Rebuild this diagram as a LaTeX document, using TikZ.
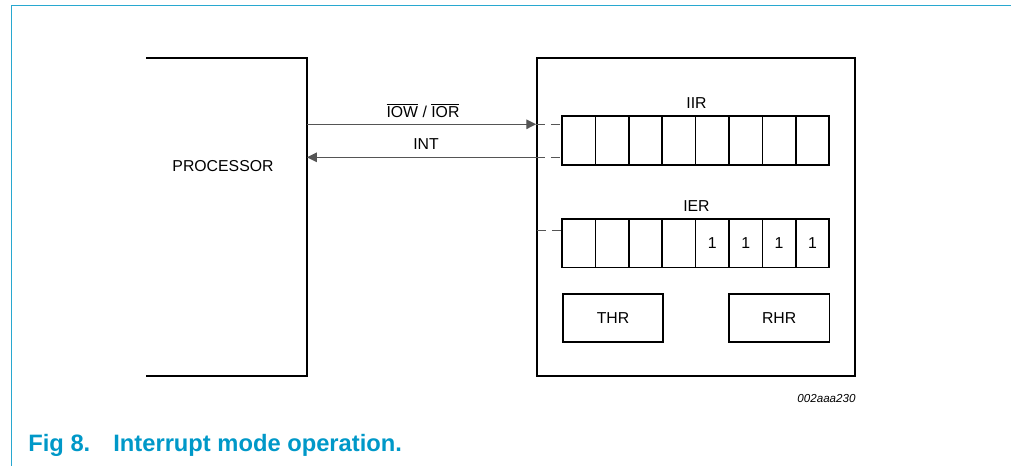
\documentclass[tikz,border=0pt]{standalone}
\usepackage{fontspec}
\setmainfont{Liberation Sans}
\usetikzlibrary{arrows.meta,positioning}
\definecolor{figblue}{RGB}{0,152,200}
\definecolor{rulecol}{RGB}{40,168,208}
\definecolor{wiregray}{RGB}{85,85,85}
\newcommand{\diagfont}{\fontsize{9}{10.8}\selectfont}
\newcommand{\ovl}[1]{$\overline{\mbox{#1}}$}

\begin{document}
\begin{tikzpicture}[x=0.02cm,y=-0.02cm,>={Triangle[length=5.6pt,width=5.4pt]},
    font=\diagfont, inner sep=0pt,
    box/.style={draw, line width=1pt},
    cell/.style={box, minimum width=0.668cm, minimum height=0.97cm},
    wire/.style={draw=wiregray, line width=0.75pt},
    stub/.style={wire, dash pattern=on 5pt off 3.4pt}]
  \useasboundingbox (0,0) rectangle (1011,466);
  % page rules
  \draw[rulecol, line width=0.9pt] (11.5,466) |- (1011,5.5);
  % processor side
  \draw[box] (146,58) -| (307,376) -- (146,376);
  \node (proc) at (223,166) {PROCESSOR};
  % UART side
  \node[box, minimum width=6.36cm, minimum height=6.36cm] (uart) at (696,217) {};
  \foreach \i in {1,...,8}
    \node[cell] (iir\i) at ({562+33.4*(\i-0.5)},140.5) {};
  \foreach \i in {1,...,8}
    \node[cell] (ier\i) at ({562+33.4*(\i-0.5)},243.3) {\ifnum\i>4 1\fi};
  \node[above=0.125cm of iir4.north east] (iirlbl) {IIR};
  \node[above=0.13cm of ier4.north east] (ierlbl) {IER};
  \node[box, minimum width=2.01cm, minimum height=0.95cm] (thr) at (613,318) {THR};
  \node[box, minimum width=2.01cm, minimum height=0.95cm] (rhr) at (779.2,318) {RHR};
  \node[below left=0.35cm and 0cm of uart.south east, font=\fontsize{6.6}{8}\selectfont\itshape] (figid) {002aaa230};
  % bus lines
  \coordinate (pw) at (307,124.3);
  \coordinate (pi) at (307,157.3);
  \coordinate (pe) at (537,230.7);
  \draw[wire,->] (pw) -- (pw -| uart.west);
  \draw[stub] (pw -| uart.west) -- (pw -| iir1.west);
  \draw[wire,->] (pi -| uart.west) -- (pi);
  \draw[stub] (pi -| uart.west) -- (pi -| iir1.west);
  \draw[stub] (pe) -- (pe -| ier1.west);
  \node[anchor=south] (iowlbl) at (423,118.5) {\ovl{IOW} / \ovl{IOR}};
  \node[anchor=south] (intlbl) at (426,150) {INT};
  % caption
  \node[anchor=west, text=figblue, font=\fontsize{13.5}{16}\selectfont\bfseries] (fignum) at (28,445) {Fig 8.};
  \node[anchor=west, text=figblue, font=\fontsize{13.5}{16}\selectfont\bfseries] (figcap) at (113,445) {Interrupt mode operation.};
\end{tikzpicture}
\end{document}
